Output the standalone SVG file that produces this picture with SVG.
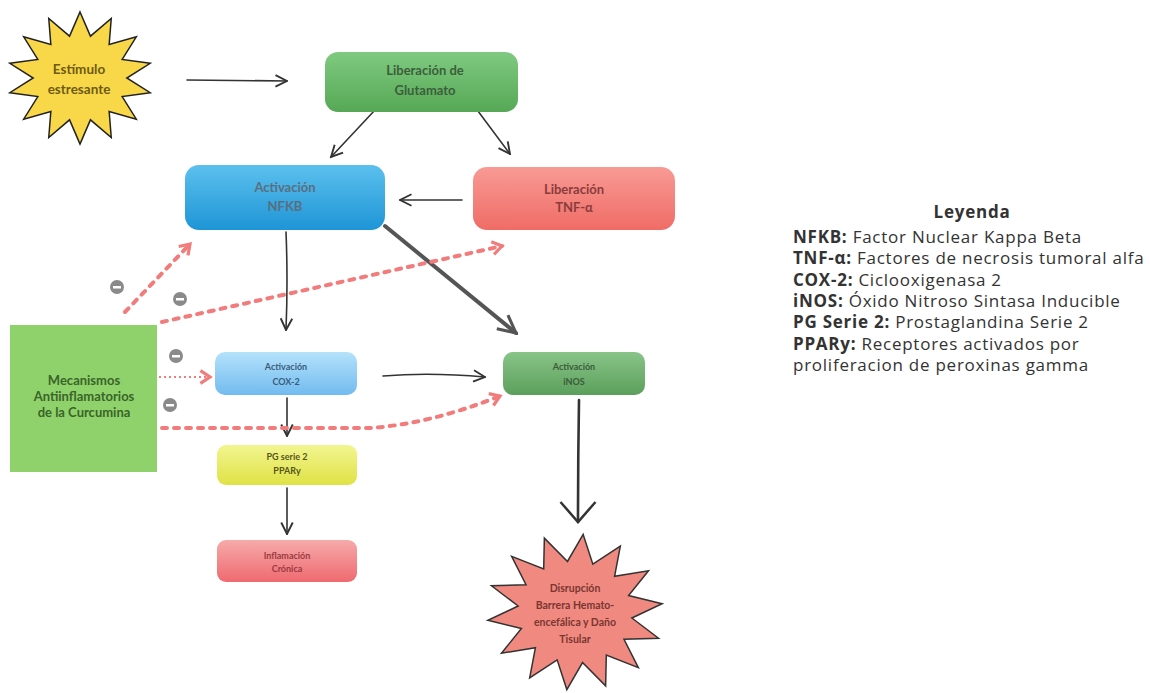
<svg xmlns="http://www.w3.org/2000/svg" width="1150" height="693" viewBox="0 0 1150 693">
<defs>
<style>
.lbl{font-family:Lato,"Liberation Sans",sans-serif;font-weight:bold;text-anchor:middle}
.box{stroke:none}
.arr{fill:none;stroke:#333;stroke-width:1.6;stroke-linecap:round}
.dash{fill:none;stroke:#f27c7c;stroke-width:4;stroke-dasharray:5 7;stroke-linecap:round}
.leg{font-family:"Open Sans","Liberation Sans",sans-serif;font-size:17px;letter-spacing:0.75px;fill:#333}
.minus circle{fill:#8a8a8a}
.minus rect{fill:#fff}
</style>
<polygon id="star" vector-effect="non-scaling-stroke" points="0,-100 14.5,-63.4 43.4,-90.1 40.5,-50.8 78.2,-62.4 58.6,-28.2 97.5,-22.3 65,0 97.5,22.3 58.6,28.2 78.2,62.4 40.5,50.8 43.4,90.1 14.5,63.4 0,100 -14.5,63.4 -43.4,90.1 -40.5,50.8 -78.2,62.4 -58.6,28.2 -97.5,22.3 -65,0 -97.5,-22.3 -58.6,-28.2 -78.2,-62.4 -40.5,-50.8 -43.4,-90.1 -14.5,-63.4"/>
<marker id="ah" viewBox="0 0 10 10" refX="9" refY="5" markerWidth="9" markerHeight="9" orient="auto"><path d="M1,1 L9,5 L1,9" fill="none" stroke="#333" stroke-width="1.3"/></marker>
<marker id="ahBig" viewBox="0 0 10 10" refX="9" refY="5" markerWidth="22" markerHeight="22" markerUnits="userSpaceOnUse" orient="auto"><path d="M1,1 L9,5 L1,9" fill="none" stroke="#555" stroke-width="1.4"/></marker>
<marker id="ahDown" viewBox="0 0 10 16" refX="9" refY="8" markerWidth="25" markerHeight="40" markerUnits="userSpaceOnUse" orient="auto"><path d="M1,1 L9,8 L1,15" fill="none" stroke="#333" stroke-width="1"/></marker>
<marker id="ahRed" viewBox="0 0 10 10" refX="8" refY="5" markerWidth="16" markerHeight="16" markerUnits="userSpaceOnUse" orient="auto"><path d="M2,1 L8,5 L2,9" fill="none" stroke="#f27c7c" stroke-width="2"/></marker>
<linearGradient id="gGreen" x1="0" y1="0" x2="0" y2="1"><stop offset="0" stop-color="#7fca80"/><stop offset="1" stop-color="#56a856"/></linearGradient>
<linearGradient id="gBlue" x1="0" y1="0" x2="0" y2="1"><stop offset="0" stop-color="#5cc0ee"/><stop offset="1" stop-color="#1e95d6"/></linearGradient>
<linearGradient id="gSalmon" x1="0" y1="0" x2="0" y2="1"><stop offset="0" stop-color="#f89a94"/><stop offset="1" stop-color="#f06c66"/></linearGradient>
<linearGradient id="gLBlue" x1="0" y1="0" x2="0" y2="1"><stop offset="0" stop-color="#b4e2fa"/><stop offset="1" stop-color="#72bbf0"/></linearGradient>
<linearGradient id="gGreen2" x1="0" y1="0" x2="0" y2="1"><stop offset="0" stop-color="#88c488"/><stop offset="1" stop-color="#5c9f5c"/></linearGradient>
<linearGradient id="gYellow" x1="0" y1="0" x2="0" y2="1"><stop offset="0" stop-color="#f2f590"/><stop offset="1" stop-color="#dfe244"/></linearGradient>
<linearGradient id="gPink" x1="0" y1="0" x2="0" y2="1"><stop offset="0" stop-color="#f6aaaa"/><stop offset="1" stop-color="#ee6a70"/></linearGradient>
</defs>
<rect width="1150" height="693" fill="#fff"/>

<g id="connectors">
<path class="arr" d="M187,80 L287,81" marker-end="url(#ah)"/>
<path class="arr" d="M375,110 L331,157" marker-end="url(#ah)"/>
<path class="arr" d="M472,103 L510,154" marker-end="url(#ah)"/>
<path class="arr" d="M462,200 L400,200" marker-end="url(#ah)"/>
<path class="arr" d="M286,232 Q288,280 286,330" marker-end="url(#ah)"/>
<path d="M385,226 L516,333" fill="none" stroke="#555" stroke-width="4" stroke-linecap="round" marker-end="url(#ahBig)"/>
<path class="arr" d="M383,376 Q430,372 485,377" marker-end="url(#ah)"/>
<path class="arr" d="M287,398 L287,436" marker-end="url(#ah)"/>
<path class="arr" d="M287,488 L287,534" marker-end="url(#ah)"/>
<path d="M579,400 Q578,460 578,522" fill="none" stroke="#333" stroke-width="2.6" stroke-linecap="round" marker-end="url(#ahDown)"/>
<path class="dash" d="M125,312 L190,244" marker-end="url(#ahRed)"/>
<path class="dash" d="M162,322 L502,246" marker-end="url(#ahRed)"/>
<path d="M159,377 L210,377" fill="none" stroke="#f27c7c" stroke-width="2" stroke-dasharray="2 3" marker-end="url(#ahRed)"/>
<path class="dash" d="M162,428 L370,428 Q430,424 500,396" marker-end="url(#ahRed)"/>
</g>

<g id="minus-signs" class="minus">
<circle cx="117" cy="287" r="7"/><rect x="113" y="286" width="8" height="2.5"/>
<circle cx="180" cy="299" r="7"/><rect x="176" y="298" width="8" height="2.5"/>
<circle cx="176" cy="356" r="7"/><rect x="172" y="355" width="8" height="2.5"/>
<circle cx="170" cy="405" r="7"/><rect x="166" y="404" width="8" height="2.5"/>
</g>

<g id="estimulo">
<use href="#star" transform="translate(80,78) scale(0.72,0.66)" fill="#f8d848" stroke="#222" stroke-width="1.5"/>
<text class="lbl" x="79" y="74" font-size="13.5" fill="#6e5a14">Estímulo</text>
<text class="lbl" x="79" y="94" font-size="13.5" fill="#6e5a14">estresante</text>
</g>

<g id="glutamato">
<rect class="box" x="325" y="52" width="193" height="60" rx="13" fill="url(#gGreen)"/>
<text class="lbl" x="425" y="75" font-size="13" fill="#3c5e3c">Liberación de</text>
<text class="lbl" x="425" y="95" font-size="13" fill="#3c5e3c">Glutamato</text>
</g>

<g id="nfkb">
<rect class="box" x="185" y="165" width="200" height="65" rx="14" fill="url(#gBlue)"/>
<text class="lbl" x="285" y="192" font-size="13" fill="#5a6e7e">Activación</text>
<text class="lbl" x="285" y="211" font-size="13" fill="#5a6e7e">NFKB</text>
</g>

<g id="tnf">
<rect class="box" x="473" y="167" width="202" height="63" rx="14" fill="url(#gSalmon)"/>
<text class="lbl" x="574" y="194" font-size="13" fill="#8a3c3c">Liberación</text>
<text class="lbl" x="574" y="212" font-size="13" fill="#8a3c3c">TNF-α</text>
</g>

<g id="cox2">
<rect class="box" x="215" y="352" width="142" height="43" rx="10" fill="url(#gLBlue)"/>
<text class="lbl" x="286" y="370" font-size="9" fill="#3a5c7a">Activación</text>
<text class="lbl" x="286" y="385" font-size="9" fill="#3a5c7a">COX-2</text>
</g>

<g id="inos">
<rect class="box" x="503" y="352" width="142" height="43" rx="10" fill="url(#gGreen2)"/>
<text class="lbl" x="574" y="370" font-size="9" fill="#3a5c3a">Activación</text>
<text class="lbl" x="574" y="385" font-size="9" fill="#3a5c3a">iNOS</text>
</g>

<g id="pg">
<rect class="box" x="217" y="445" width="140" height="40" rx="9" fill="url(#gYellow)"/>
<text class="lbl" x="287" y="460" font-size="9" fill="#55551c">PG serie 2</text>
<text class="lbl" x="287" y="474" font-size="9" fill="#55551c">PPARy</text>
</g>

<g id="inflamacion">
<rect class="box" x="217" y="540" width="140" height="42" rx="9" fill="url(#gPink)"/>
<text class="lbl" x="287" y="559" font-size="9" fill="#9a3a40">Inflamación</text>
<text class="lbl" x="287" y="572" font-size="9" fill="#9a3a40">Crónica</text>
</g>

<g id="disrupcion">
<use href="#star" transform="translate(575,612) rotate(6) scale(0.88,0.78)" fill="#f08a80" stroke="#333" stroke-width="1.5"/>
<text class="lbl" x="575" y="592" font-size="10.5" fill="#7a3630">Disrupción</text>
<text class="lbl" x="575" y="609" font-size="10.5" fill="#7a3630">Barrera Hemato-</text>
<text class="lbl" x="575" y="626" font-size="10.5" fill="#7a3630">encefálica y Daño</text>
<text class="lbl" x="575" y="643" font-size="10.5" fill="#7a3630">Tisular</text>
</g>

<g id="curcumina">
<rect x="10" y="325" width="147" height="147" fill="#8fd26c"/>
<text class="lbl" x="84" y="385" font-size="13" fill="#3a6428">Mecanismos</text>
<text class="lbl" x="84" y="401" font-size="13" fill="#3a6428">Antiinflamatorios</text>
<text class="lbl" x="84" y="417" font-size="13" fill="#3a6428">de la Curcumina</text>
</g>

<g id="leyenda">
<text class="leg" x="972" y="218" text-anchor="middle" font-weight="bold">Leyenda</text>
<text class="leg" x="793" y="243"><tspan font-weight="bold">NFKB:</tspan> Factor Nuclear Kappa Beta</text>
<text class="leg" x="793" y="264"><tspan font-weight="bold">TNF-α:</tspan> Factores de necrosis tumoral alfa</text>
<text class="leg" x="793" y="286"><tspan font-weight="bold">COX-2:</tspan> Ciclooxigenasa 2</text>
<text class="leg" x="793" y="307"><tspan font-weight="bold">iNOS:</tspan> Óxido Nitroso Sintasa Inducible</text>
<text class="leg" x="793" y="328"><tspan font-weight="bold">PG Serie 2:</tspan> Prostaglandina Serie 2</text>
<text class="leg" x="793" y="350"><tspan font-weight="bold">PPARy:</tspan> Receptores activados por</text>
<text class="leg" x="793" y="371">proliferacion de peroxinas gamma</text>
</g>
</svg>
